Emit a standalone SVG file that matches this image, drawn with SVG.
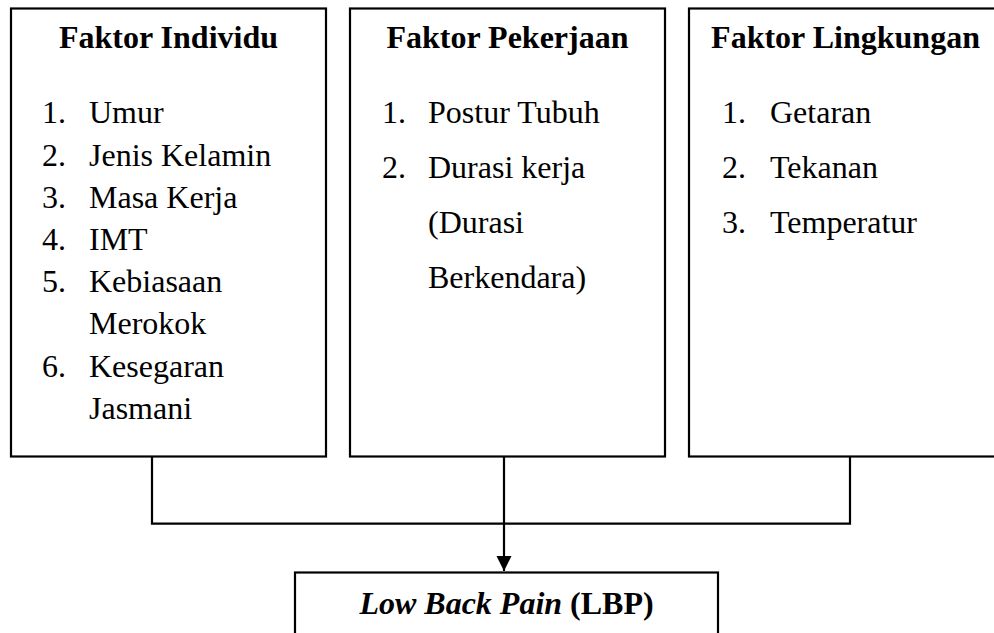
<svg xmlns="http://www.w3.org/2000/svg" width="994" height="633" viewBox="0 0 994 633">
<style>
.box{fill:#fff;stroke:#000;stroke-width:2.2}
.t{font-family:'Liberation Serif','DejaVu Serif',serif;font-size:32px;fill:#000}
.h{font-weight:bold;text-anchor:middle}
.c{fill:none;stroke:#000;stroke-width:2.2}
</style>
<defs>
<marker id="arr" markerWidth="16" markerHeight="16" refX="15" refY="7.5" orient="auto" markerUnits="userSpaceOnUse">
<path d="M0,0 L15,7.5 L0,15 Z" fill="#000"/>
</marker>
</defs>
<rect width="994" height="633" fill="#fff"/>
<g id="connectors">
<path class="c" d="M152,456.5 V523.7 H850 V456.5"/>
<path class="c" d="M504,456.5 V571" marker-end="url(#arr)"/>
</g>
<g id="faktor-individu">
<rect class="box" x="11" y="8.5" width="315" height="448"/>
<text class="t h" x="168.5" y="48">Faktor Individu</text>
<text class="t" x="42" y="123">1.</text><text class="t" x="89" y="123">Umur</text>
<text class="t" x="42" y="165.5">2.</text><text class="t" x="89" y="165.5">Jenis Kelamin</text>
<text class="t" x="42" y="208">3.</text><text class="t" x="89" y="208">Masa Kerja</text>
<text class="t" x="42" y="250">4.</text><text class="t" x="89" y="250">IMT</text>
<text class="t" x="42" y="292">5.</text><text class="t" x="89" y="292">Kebiasaan</text>
<text class="t" x="89" y="334">Merokok</text>
<text class="t" x="42" y="376.5">6.</text><text class="t" x="89" y="376.5">Kesegaran</text>
<text class="t" x="89" y="419">Jasmani</text>
</g>
<g id="faktor-pekerjaan">
<rect class="box" x="350" y="8.5" width="315" height="448"/>
<text class="t h" x="507.5" y="48">Faktor Pekerjaan</text>
<text class="t" x="382" y="123">1.</text><text class="t" x="428" y="123">Postur Tubuh</text>
<text class="t" x="382" y="178">2.</text><text class="t" x="428" y="178">Durasi kerja</text>
<text class="t" x="428" y="233">(Durasi</text>
<text class="t" x="428" y="288">Berkendara)</text>
</g>
<g id="faktor-lingkungan">
<rect class="box" x="689" y="8.5" width="315" height="448"/>
<text class="t h" x="845.5" y="48">Faktor Lingkungan</text>
<text class="t" x="722" y="123">1.</text><text class="t" x="770" y="123">Getaran</text>
<text class="t" x="722" y="178">2.</text><text class="t" x="770" y="178">Tekanan</text>
<text class="t" x="722" y="233">3.</text><text class="t" x="770" y="233">Temperatur</text>
</g>
<g id="lbp">
<rect class="box" x="295" y="572.5" width="423" height="80"/>
<text class="t h" x="506.5" y="614"><tspan font-style="italic">Low Back Pain</tspan> (LBP)</text>
</g>
</svg>
